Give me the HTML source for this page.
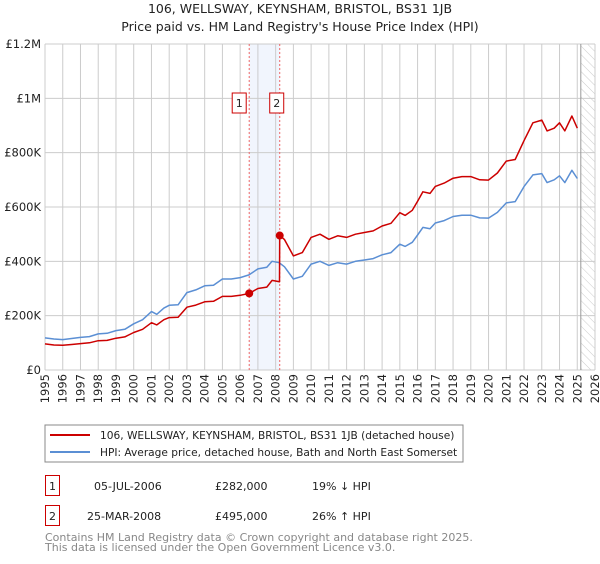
<!DOCTYPE html>
<html><head><meta charset="utf-8"><style>
body{margin:0;background:#fff;font-family:"DejaVu Sans","Liberation Sans",sans-serif;}
svg text{font-family:"DejaVu Sans","Liberation Sans",sans-serif;}
</style></head><body>
<svg id="c" width="600" height="560" xmlns="http://www.w3.org/2000/svg">
<defs><pattern id="hatch" width="6" height="6" patternUnits="userSpaceOnUse" patternTransform="rotate(-45)"><line x1="0" y1="0" x2="0" y2="6" stroke="#ccc" stroke-width="1"/></pattern></defs>
<text x="300" y="13" text-anchor="middle" font-size="12.5" fill="#222">106, WELLSWAY, KEYNSHAM, BRISTOL, BS31 1JB</text>
<text x="300" y="31" text-anchor="middle" font-size="12.5" fill="#222">Price paid vs. HM Land Registry's House Price Index (HPI)</text>
<g id="grid"></g><g id="marks"></g><g id="axes"></g>
<rect x="45" y="425" width="418" height="37" fill="none" stroke="#888"/>
<line x1="50" y1="435" x2="90" y2="435" stroke="#cc0000" stroke-width="2"/>
<text x="100" y="439" font-size="10.6" fill="#222">106, WELLSWAY, KEYNSHAM, BRISTOL, BS31 1JB (detached house)</text>
<line x1="50" y1="452" x2="90" y2="452" stroke="#5b8fd4" stroke-width="2"/>
<text x="100" y="456" font-size="10.6" fill="#222">HPI: Average price, detached house, Bath and North East Somerset</text>
<g>
<rect x="45.5" y="475.5" width="14" height="20" fill="none" stroke="#cc0000"/>
<text x="52.5" y="490" text-anchor="middle" font-size="11" fill="#222">1</text>
<text x="94" y="490" font-size="11" fill="#222">05-JUL-2006</text>
<text x="215" y="490" font-size="11" fill="#222">£282,000</text>
<text x="312" y="490" font-size="11" fill="#222">19% ↓ HPI</text></g>
<g>
<rect x="45.5" y="505.5" width="14" height="20" fill="none" stroke="#cc0000"/>
<text x="52.5" y="520" text-anchor="middle" font-size="11" fill="#222">2</text>
<text x="87" y="520" font-size="11" fill="#222">25-MAR-2008</text>
<text x="215" y="520" font-size="11" fill="#222">£495,000</text>
<text x="312" y="520" font-size="11" fill="#222">26% ↑ HPI</text></g>
<text x="45" y="541" font-size="11" fill="#888">Contains HM Land Registry data © Crown copyright and database right 2025.</text>
<text x="45" y="551" font-size="11" fill="#888">This data is licensed under the Open Government Licence v3.0.</text>
</svg>
<script>
const hpiTimes=[1995,1995.5,1996,1996.5,1997,1997.5,1998,1998.5,1999,1999.5,2000,2000.5,2001,2001.3,2001.7,2002,2002.5,2003,2003.5,2004,2004.5,2005,2005.5,2006,2006.5,2007,2007.5,2007.8,2008.2,2008.5,2009,2009.5,2010,2010.5,2011,2011.5,2012,2012.5,2013,2013.5,2014,2014.5,2015,2015.3,2015.7,2016,2016.3,2016.7,2017,2017.5,2018,2018.5,2019,2019.5,2020,2020.5,2021,2021.5,2022,2022.5,2023,2023.3,2023.7,2024,2024.3,2024.7,2025];
const hpiValues=[118,114,112,116,120,123,133,135,145,150,170,185,215,205,228,238,240,285,295,310,312,335,335,340,350,372,378,400,395,380,335,345,390,400,385,395,390,400,405,410,424,432,463,455,470,497,525,520,541,550,565,570,570,560,559,580,615,620,675,718,723,690,700,715,690,735,705];
const redTimes=[1995,1995.5,1996,1996.5,1997,1997.5,1998,1998.5,1999,1999.5,2000,2000.5,2001,2001.3,2001.7,2002,2002.5,2003,2003.5,2004,2004.5,2005,2005.5,2006,2006.51,2007,2007.5,2007.8,2008.22,2008.23,2008.5,2009,2009.5,2010,2010.5,2011,2011.5,2012,2012.5,2013,2013.5,2014,2014.5,2015,2015.3,2015.7,2016,2016.3,2016.7,2017,2017.5,2018,2018.5,2019,2019.5,2020,2020.5,2021,2021.5,2022,2022.5,2023,2023.3,2023.7,2024,2024.3,2024.7,2025];
const redValues=[96,92,91,94,97,100,108,109,117,122,138,150,174,166,185,193,194,231,239,251,253,271,271,275,282,300,305,330,325,495,480,420,432,488,500,481,494,488,500,506,512,530,540,579,569,588,621,656,650,676,688,706,712,712,700,699,725,769,775,844,910,920,880,890,910,880,935,890];
const sales=[{n:"1",t:2006.51,v:282},{n:"2",t:2008.23,v:495}];
const yTicks=[0,200,400,600,800,1000,1200];
const yTickLabels=["£0","£200K","£400K","£600K","£800K","£1M","£1.2M"];
const years=[1995,1996,1997,1998,1999,2000,2001,2002,2003,2004,2005,2006,2007,2008,2009,2010,2011,2012,2013,2014,2015,2016,2017,2018,2019,2020,2021,2022,2023,2024,2025,2026];
const X0=45,X1=595,Y0=370,Y1=44;
const xs=t=>X0+(t-1995)/(2026-1995)*(X1-X0);
const ys=v=>Y0-v/1200*(Y0-Y1);
const NS="http://www.w3.org/2000/svg";
function mk(tag,attrs,parent){const e=document.createElementNS(NS,tag);for(const k in attrs)e.setAttribute(k,attrs[k]);parent.appendChild(e);return e;}
const grid=document.getElementById('grid'),marks=document.getElementById('marks'),axes=document.getElementById('axes');
let sh=mk('rect',{x:xs(2006.51),y:Y1,width:xs(2008.23)-xs(2006.51),height:Y0-Y1,fill:'#eef3fc',opacity:0.8},grid);


years.forEach(y=>{const l=mk('line',{x1:xs(y),x2:xs(y),y1:Y1,y2:Y0,stroke:'#ccc'},grid);


const t=mk('text',{transform:`translate(${xs(y)+4},${Y0+4}) rotate(-90)`,'text-anchor':'end','font-size':11.5,fill:'#222'},axes);t.textContent=y;

});
yTicks.forEach((v,i)=>{const l=mk('line',{x1:X0,x2:X1,y1:ys(v),y2:ys(v),stroke:'#ccc'},grid);


const t=mk('text',{x:X0-4,y:ys(v)+4,'text-anchor':'end','font-size':11.5,fill:'#222'},axes);t.textContent=yTickLabels[i];

});
let hx=xs(2025.2);
let hr=mk('rect',{x:hx,y:Y1,width:X1-hx,height:Y0-Y1,fill:'url(#hatch)'},grid);


let hl=mk('line',{x1:hx,x2:hx,y1:Y1,y2:Y0,stroke:'#999','stroke-width':1},grid);


sales.forEach(s=>{const l=mk('line',{x1:xs(s.t),x2:xs(s.t),y1:Y1,y2:Y0,stroke:'#e66','stroke-dasharray':'2,2'},grid);

});
function path(ts,vs,col,name){const d=ts.map((t,i)=>(i?'L':'M')+xs(t).toFixed(1)+','+ys(vs[i]).toFixed(1)).join('');
const p=mk('path',{d:d,fill:'none',stroke:col,'stroke-width':1.5,'stroke-linejoin':'round'},marks);

}
path(hpiTimes,hpiValues,'#5b8fd4','hpi-line');
path(redTimes,redValues,'#cc0000','price-paid-line');
sales.forEach((s,i)=>{const c=mk('circle',{cx:xs(s.t),cy:ys(s.v),r:4,fill:'#cc0000'},marks);


const bx=xs(s.t)-(i==0?17:10);
const g=mk('g',{},marks);


mk('rect',{x:bx,y:93,width:14,height:20,fill:'#fff',stroke:'#cc0000'},g);
const t=mk('text',{x:bx+7,y:107,'text-anchor':'middle','font-size':11,fill:'#222'},g);t.textContent=s.n;});
</script>
</body></html>
